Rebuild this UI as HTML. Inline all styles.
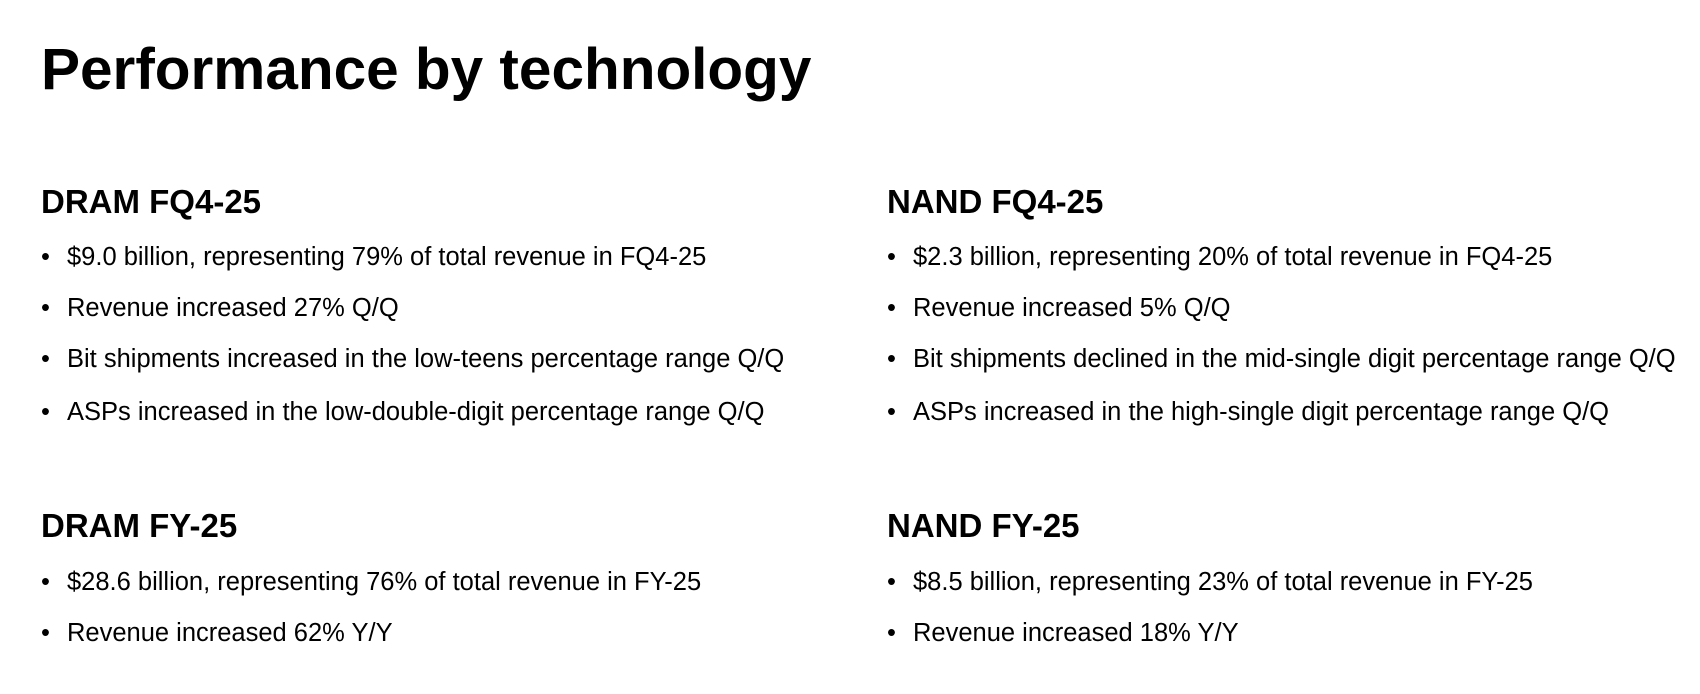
<!DOCTYPE html>
<html><head><meta charset="utf-8"><style>
html,body{margin:0;padding:0;background:#fff;}
body{width:1700px;height:694px;position:relative;overflow:hidden;font-family:"Liberation Sans",Arial,sans-serif;color:#000;}
.t{position:absolute;white-space:nowrap;}
.title{left:41px;top:41px;font-size:58.5px;line-height:58px;font-weight:bold;}
.h{font-size:33px;line-height:33px;font-weight:bold;}
.b{font-size:25.5px;line-height:24px;}
.b span{position:absolute;left:-26px;}
</style></head><body>
<div class="t title">Performance by technology</div>

<div class="t h" style="left:41px;top:185px">DRAM FQ4-25</div>
<div class="t b" style="left:67px;top:245px"><span>•</span>$9.0 billion, representing 79% of total revenue in FQ4-25</div>
<div class="t b" style="left:67px;top:296px"><span>•</span>Revenue increased 27% Q/Q</div>
<div class="t b" style="left:67px;top:347px"><span>•</span>Bit shipments increased in the low-teens percentage range Q/Q</div>
<div class="t b" style="left:67px;top:400px"><span>•</span>ASPs increased in the low-double-digit percentage range Q/Q</div>

<div class="t h" style="left:41px;top:509px">DRAM FY-25</div>
<div class="t b" style="left:67px;top:570px"><span>•</span>$28.6 billion, representing 76% of total revenue in FY-25</div>
<div class="t b" style="left:67px;top:621px"><span>•</span>Revenue increased 62% Y/Y</div>

<div class="t h" style="left:887px;top:185px">NAND FQ4-25</div>
<div class="t b" style="left:913px;top:245px"><span>•</span>$2.3 billion, representing 20% of total revenue in FQ4-25</div>
<div class="t b" style="left:913px;top:296px"><span>•</span>Revenue increased 5% Q/Q</div>
<div class="t b" style="left:913px;top:347px"><span>•</span>Bit shipments declined in the mid-single digit percentage range Q/Q</div>
<div class="t b" style="left:913px;top:400px"><span>•</span>ASPs increased in the high-single digit percentage range Q/Q</div>

<div class="t h" style="left:887px;top:509px">NAND FY-25</div>
<div class="t b" style="left:913px;top:570px"><span>•</span>$8.5 billion, representing 23% of total revenue in FY-25</div>
<div class="t b" style="left:913px;top:621px"><span>•</span>Revenue increased 18% Y/Y</div>
</body></html>
